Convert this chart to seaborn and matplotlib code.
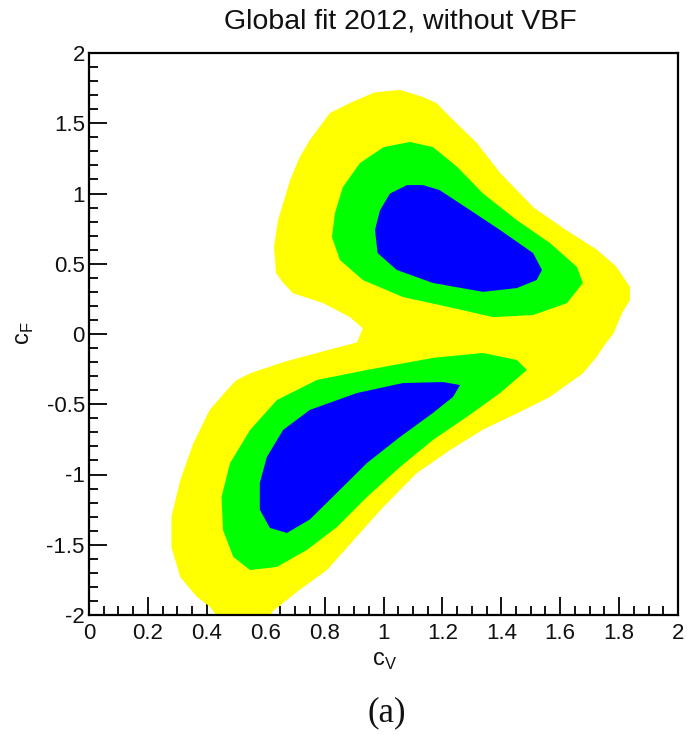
import matplotlib
matplotlib.use("Agg")
import matplotlib.pyplot as plt
from matplotlib.ticker import MultipleLocator, FormatStrFormatter
import seaborn as sns

# ---- contour boundaries (c_V, c_F) ----
yellow_cv = [1.056, 1.134, 1.18, 1.226, 1.317, 1.396, 1.51, 1.62, 1.725, 1.79, 1.837, 1.837, 1.81, 1.78,
             1.75, 1.725, 1.677, 1.565, 1.453, 1.338, 1.226, 1.113, 1.0, 0.91, 0.808, 0.716, 0.625,
             0.60, 0.45, 0.41, 0.366, 0.31, 0.28, 0.28, 0.31, 0.354, 0.41, 0.468, 0.50, 0.547, 0.66, 0.774,
             0.91, 0.93, 0.886, 0.795, 0.693, 0.66, 0.635, 0.628, 0.642, 0.683, 0.716, 0.75, 0.818, 0.886, 0.97]
yellow_cf = [1.737, 1.687, 1.644, 1.545, 1.36, 1.146, 0.90, 0.74, 0.60, 0.48, 0.335, 0.24, 0.15, 0.0,
             -0.08, -0.16, -0.28, -0.448, -0.565, -0.68, -0.826, -0.99, -1.23, -1.44, -1.68, -1.82, -1.97,
             -2.05, -2.05, -1.94, -1.87, -1.73, -1.52, -1.30, -1.04, -0.78, -0.54, -0.40, -0.33, -0.28, -0.2, -0.135,
             -0.06, 0.04, 0.12, 0.22, 0.29, 0.363, 0.434, 0.62, 0.811, 1.096, 1.26, 1.381, 1.573, 1.644, 1.72]

green_up_cv = [1.09, 1.0, 0.92, 0.862, 0.835, 0.825, 0.852, 0.93, 1.066, 1.226, 1.372, 1.508, 1.623,
               1.677, 1.657, 1.565, 1.453, 1.338, 1.25, 1.168]
green_up_cf = [1.367, 1.33, 1.217, 1.046, 0.86, 0.69, 0.527, 0.384, 0.263, 0.19, 0.12, 0.135, 0.22,
               0.363, 0.477, 0.648, 0.81, 1.0, 1.19, 1.33]

blue_up_cv = [1.08, 1.022, 0.988, 0.971, 0.98, 1.045, 1.168, 1.338, 1.453, 1.52, 1.538, 1.508, 1.396,
              1.283, 1.19, 1.134]
blue_up_cf = [1.06, 1.0, 0.88, 0.74, 0.576, 0.456, 0.363, 0.30, 0.327, 0.384, 0.456, 0.576, 0.74,
              0.897, 1.025, 1.06]

green_lo_cv = [1.487, 1.453, 1.338, 1.168, 0.944, 0.774, 0.638, 0.547, 0.479, 0.45, 0.455, 0.49, 0.547,
               0.638, 0.74, 0.842, 0.944, 1.056, 1.168, 1.283, 1.396]
green_lo_cf = [-0.256, -0.185, -0.135, -0.17, -0.256, -0.327, -0.47, -0.683, -0.918, -1.16, -1.395, -1.587,
               -1.68, -1.658, -1.537, -1.374, -1.16, -0.947, -0.754, -0.59, -0.42]

blue_lo_cv = [1.26, 1.202, 1.066, 0.91, 0.75, 0.659, 0.604, 0.58, 0.58, 0.614, 0.672, 0.75, 0.842,
              0.944, 1.056, 1.168, 1.236]
blue_lo_cf = [-0.363, -0.342, -0.349, -0.42, -0.54, -0.683, -0.875, -1.06, -1.25, -1.38, -1.416, -1.32,
              -1.13, -0.918, -0.733, -0.562, -0.448]

title = "Global fit 2012, without VBF"

sns.set_theme(style="ticks")
plt.rcParams["font.family"] = ["Liberation Sans", "DejaVu Sans"]
plt.rcParams["axes.unicode_minus"] = False

fig = plt.figure(figsize=(6.87, 7.35), dpi=100)
ax = fig.add_axes([89 / 687, 1 - 615 / 735, (678 - 89) / 687, (615 - 53) / 735])

YEL, GRN, BLU = "#ffff00", "#00ff00", "#0000ff"
ax.fill(yellow_cv, yellow_cf, color=YEL, lw=0)
ax.fill(green_up_cv, green_up_cf, color=GRN, lw=0)
ax.fill(green_lo_cv, green_lo_cf, color=GRN, lw=0)
ax.fill(blue_up_cv, blue_up_cf, color=BLU, lw=0)
ax.fill(blue_lo_cv, blue_lo_cf, color=BLU, lw=0)

ax.set_xlim(0, 2)
ax.set_ylim(-2, 2)
ax.xaxis.set_major_locator(MultipleLocator(0.2))
ax.xaxis.set_minor_locator(MultipleLocator(0.05))
ax.yaxis.set_major_locator(MultipleLocator(0.5))
ax.yaxis.set_minor_locator(MultipleLocator(0.1))
ax.xaxis.set_major_formatter(FormatStrFormatter("%g"))
ax.yaxis.set_major_formatter(FormatStrFormatter("%g"))
ax.tick_params(which="both", direction="in", top=False, right=False, color="black", width=1.3)
ax.tick_params(which="major", length=13, labelsize=16, labelcolor="#111111")
ax.tick_params(which="minor", length=6.5)
ax.tick_params(axis="x", which="major", pad=6)
ax.tick_params(axis="y", which="major", pad=3)
for s in ax.spines.values():
    s.set_linewidth(1.6)
    s.set_color("black")

fig.text(400 / 687, 1 - 22 / 735, title, ha="center", va="center", fontsize=20.5, color="#111111")
fig.text(384 / 687, 1 - 661 / 735, r"c$_{\mathregular{V}}$", ha="center", va="center", fontsize=17, color="#111111")
fig.text(25 / 687, 1 - 333 / 735, r"c$_{\mathregular{F}}$", ha="center", va="center", fontsize=17,
         rotation=90, color="#111111")
fig.text(387 / 687, 1 - 713 / 735, "(a)", ha="center", va="center", fontsize=25,
         family=["Liberation Serif", "DejaVu Serif"], color="#111111")

fig.savefig("out.png", dpi=100)
